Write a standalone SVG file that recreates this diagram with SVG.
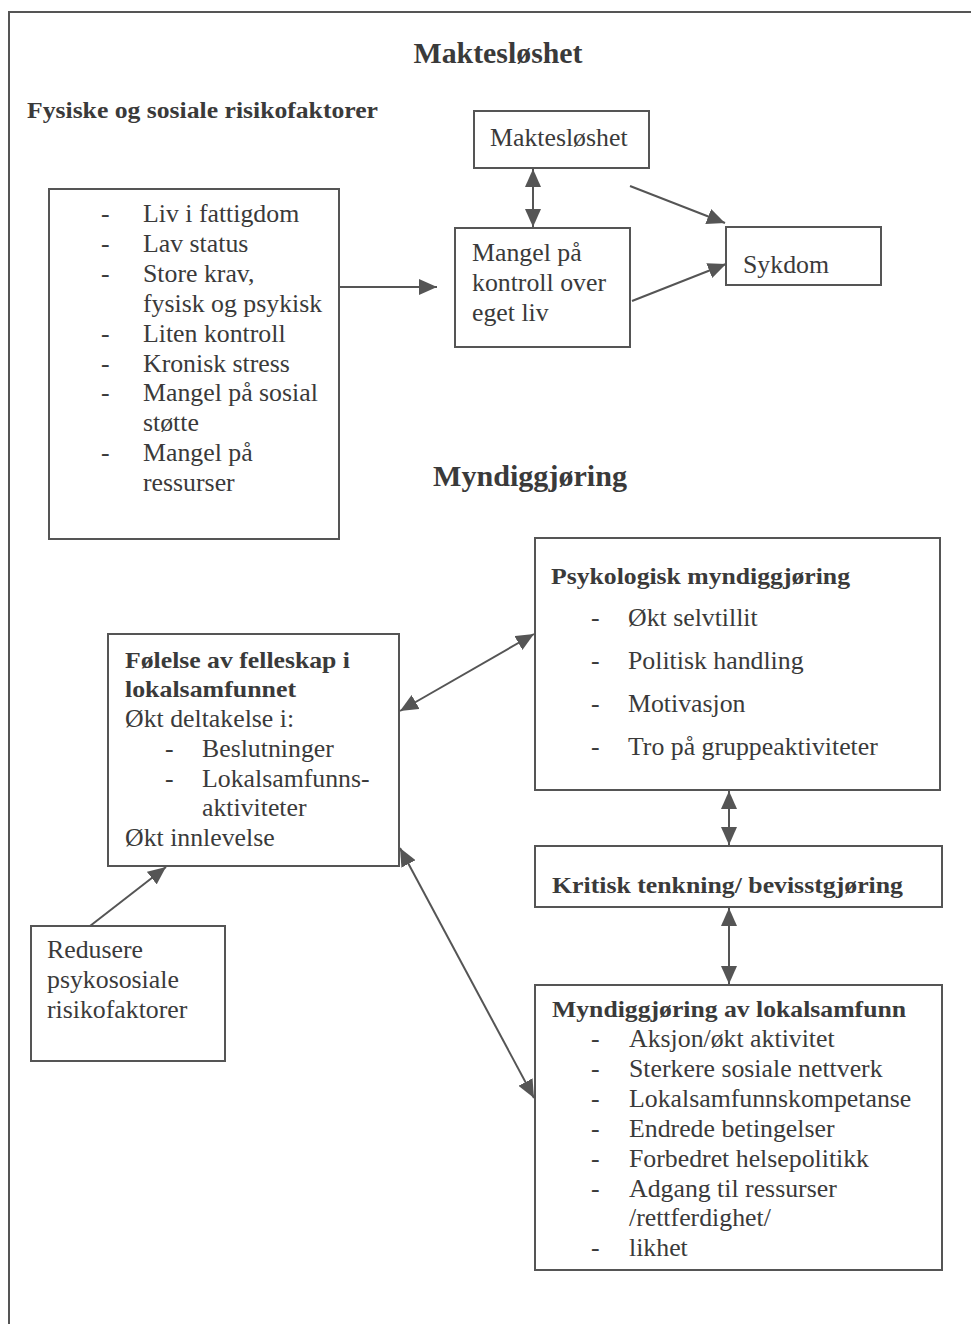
<svg xmlns="http://www.w3.org/2000/svg" width="971" height="1324" viewBox="0 0 971 1324">
<defs>
<style>
.box{fill:#fff;stroke:#555;stroke-width:2}
.t{font-family:"Liberation Serif","Times New Roman",serif;font-size:25.8px;fill:#3a3a3a}
.b{font-family:"Liberation Serif","Times New Roman",serif;font-size:24px;font-weight:bold;fill:#3a3a3a}
.h{font-family:"Liberation Serif","Times New Roman",serif;font-size:30px;font-weight:bold;fill:#3a3a3a}
.c{stroke:#555;stroke-width:2;fill:none}
</style>
<marker id="ah" viewBox="0 0 18 16" refX="18" refY="8" markerWidth="18" markerHeight="16" markerUnits="userSpaceOnUse" orient="auto-start-reverse">
<path d="M0,0 L18,8 L0,16 z" fill="#555"/>
</marker>
</defs>
<rect width="971" height="1324" fill="#fff"/>
<g id="frame">
<path d="M9,1324 V12 H971" class="c"/>
</g>
<g id="titles">
<text class="h" x="498" y="63" text-anchor="middle" textLength="169" lengthAdjust="spacingAndGlyphs">Maktesløshet</text>
<text class="b" x="27" y="118" textLength="351" lengthAdjust="spacingAndGlyphs">Fysiske og sosiale risikofaktorer</text>
<text class="h" x="530" y="486" text-anchor="middle" textLength="194" lengthAdjust="spacingAndGlyphs">Myndiggjøring</text>
</g>
<g id="risk">
<rect class="box" x="49" y="189" width="290" height="350"/>
<g class="t">
<text x="101" y="222">-</text><text x="143" y="222">Liv i fattigdom</text>
<text x="101" y="252">-</text><text x="143" y="252">Lav status</text>
<text x="101" y="282">-</text><text x="143" y="282">Store krav,</text>
<text x="143" y="312">fysisk og psykisk</text>
<text x="101" y="342">-</text><text x="143" y="342">Liten kontroll</text>
<text x="101" y="372">-</text><text x="143" y="372">Kronisk stress</text>
<text x="101" y="401">-</text><text x="143" y="401">Mangel på sosial</text>
<text x="143" y="431">støtte</text>
<text x="101" y="461">-</text><text x="143" y="461">Mangel på</text>
<text x="143" y="491">ressurser</text>
</g>
</g>
<g id="maktesloshet">
<rect class="box" x="474" y="111" width="175" height="57"/>
<text class="t" x="490" y="146">Maktesløshet</text>
</g>
<g id="mangel">
<rect class="box" x="455" y="228" width="175" height="119"/>
<text class="t" x="472" y="261">Mangel på</text>
<text class="t" x="472" y="291">kontroll over</text>
<text class="t" x="472" y="321">eget liv</text>
</g>
<g id="sykdom">
<rect class="box" x="726" y="227" width="155" height="58"/>
<text class="t" x="743" y="273">Sykdom</text>
</g>
<g id="psykologisk">
<rect class="box" x="535" y="538" width="405" height="252"/>
<text class="b" x="551" y="584" textLength="299" lengthAdjust="spacingAndGlyphs">Psykologisk myndiggjøring</text>
<g class="t">
<text x="591" y="626">-</text><text x="628" y="626">Økt selvtillit</text>
<text x="591" y="669">-</text><text x="628" y="669">Politisk handling</text>
<text x="591" y="712">-</text><text x="628" y="712">Motivasjon</text>
<text x="591" y="755">-</text><text x="628" y="755">Tro på gruppeaktiviteter</text>
</g>
</g>
<g id="folelse">
<rect class="box" x="108" y="634" width="291" height="232"/>
<text class="b" x="125" y="668" textLength="225" lengthAdjust="spacingAndGlyphs">Følelse av felleskap i</text>
<text class="b" x="125" y="697" textLength="171" lengthAdjust="spacingAndGlyphs">lokalsamfunnet</text>
<g class="t">
<text x="125" y="727">Økt deltakelse i:</text>
<text x="165" y="757">-</text><text x="202" y="757">Beslutninger</text>
<text x="165" y="787">-</text><text x="202" y="787">Lokalsamfunns-</text>
<text x="202" y="816">aktiviteter</text>
<text x="125" y="846">Økt innlevelse</text>
</g>
</g>
<g id="kritisk">
<rect class="box" x="535" y="846" width="407" height="61"/>
<text class="b" x="552" y="893" textLength="351" lengthAdjust="spacingAndGlyphs">Kritisk tenkning/ bevisstgjøring</text>
</g>
<g id="lokalsamfunn">
<rect class="box" x="535" y="985" width="407" height="285"/>
<text class="b" x="552" y="1017" textLength="354" lengthAdjust="spacingAndGlyphs">Myndiggjøring av lokalsamfunn</text>
<g class="t">
<text x="591" y="1047">-</text><text x="629" y="1047">Aksjon/økt aktivitet</text>
<text x="591" y="1077">-</text><text x="629" y="1077">Sterkere sosiale nettverk</text>
<text x="591" y="1107">-</text><text x="629" y="1107">Lokalsamfunnskompetanse</text>
<text x="591" y="1137">-</text><text x="629" y="1137">Endrede betingelser</text>
<text x="591" y="1167">-</text><text x="629" y="1167">Forbedret helsepolitikk</text>
<text x="591" y="1197">-</text><text x="629" y="1197">Adgang til ressurser</text>
<text x="629" y="1226">/rettferdighet/</text>
<text x="591" y="1256">-</text><text x="629" y="1256">likhet</text>
</g>
</g>
<g id="redusere">
<rect class="box" x="31" y="926" width="194" height="135"/>
<text class="t" x="47" y="958">Redusere</text>
<text class="t" x="47" y="988">psykososiale</text>
<text class="t" x="47" y="1018">risikofaktorer</text>
</g>
<g id="connectors">
<line class="c" x1="339" y1="287" x2="437" y2="287" marker-end="url(#ah)"/>
<line class="c" x1="533" y1="169" x2="533" y2="227" marker-start="url(#ah)" marker-end="url(#ah)"/>
<line class="c" x1="630" y1="186" x2="725" y2="223" marker-end="url(#ah)"/>
<line class="c" x1="632" y1="301" x2="726" y2="264" marker-end="url(#ah)"/>
<line class="c" x1="400" y1="711" x2="534" y2="634" marker-start="url(#ah)" marker-end="url(#ah)"/>
<line class="c" x1="400" y1="848" x2="534" y2="1098" marker-start="url(#ah)" marker-end="url(#ah)"/>
<line class="c" x1="90" y1="926" x2="166" y2="867" marker-end="url(#ah)"/>
<line class="c" x1="729" y1="791" x2="729" y2="845" marker-start="url(#ah)" marker-end="url(#ah)"/>
<line class="c" x1="729" y1="908" x2="729" y2="984" marker-start="url(#ah)" marker-end="url(#ah)"/>
</g>
</svg>
